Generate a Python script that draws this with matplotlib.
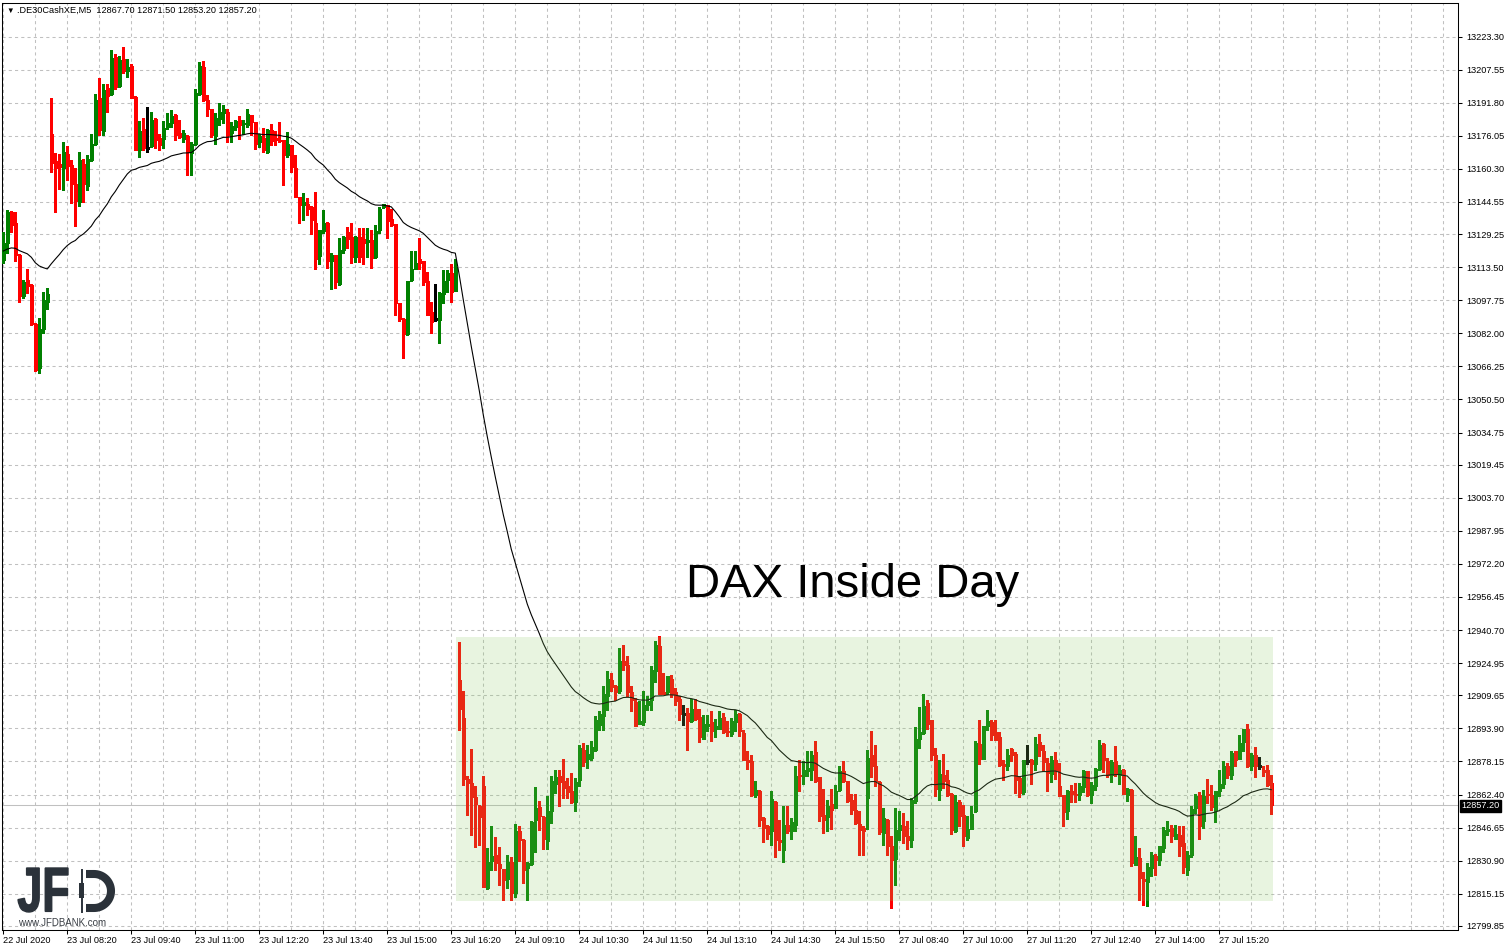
import numpy as np
import matplotlib
matplotlib.use('Agg')
import matplotlib.pyplot as plt
from matplotlib.patches import Rectangle, PathPatch
from matplotlib.lines import Line2D
from matplotlib.textpath import TextPath
from matplotlib.font_manager import FontProperties
from matplotlib.transforms import Affine2D

plt.rcParams['font.family'] = ['Liberation Sans', 'DejaVu Sans']

symbol = '.DE30CashXE,M5'
chart_title = 'DAX Inside Day'

# M5 candles, 23 Jul (left part) then 24 + 27 Jul
opens = [
    13116.8, 13124.8, 13139.6, 13134.3, 13119.2, 13099.7, 13107.3, 13104.9, 13086.4, 13065.3,
    13083.9, 13097.0, 13177.1, 13164.1, 13162.4, 13160.9, 13167.6, 13162.1, 13153.0, 13144.6,
    13162.5, 13152.2, 13164.4, 13172.0, 13194.1, 13178.4, 13198.8, 13196.1, 13213.6, 13199.8,
    13212.5, 13206.9, 13209.1, 13194.6, 13169.5, 13179.2, 13170.4, 13171.1, 13183.9, 13175.0,
    13174.3, 13180.0, 13182.2, 13185.8, 13177.4, 13174.7, 13175.8, 13167.9, 13172.0, 13195.8,
    13208.8, 13193.3, 13188.7, 13176.0, 13184.2, 13186.9, 13187.4, 13177.6, 13180.4, 13183.4,
    13181.5, 13181.0, 13185.8, 13182.6, 13173.1, 13175.2, 13168.3, 13178.6, 13175.0, 13174.2,
    13173.9, 13166.7, 13171.5, 13160.9, 13146.9, 13143.0, 13143.8, 13142.2, 13134.6, 13118.9,
    13130.6, 13134.6, 13116.3, 13119.2, 13105.7, 13121.6, 13130.0, 13127.9, 13118.4, 13127.9,
    13127.1, 13125.5, 13126.6, 13118.4, 13131.1, 13141.9, 13143.0, 13136.3, 13133.9, 13096.2,
    13089.0, 13081.6, 13107.3, 13112.8, 13117.6, 13116.3, 13106.8, 13092.2, 13088.6, 13088.3,
    13100.6, 13107.3, 13110.5, 13102.2,
    12917.1, 12898.8, 12870.0, 12868.1, 12861.4, 12857.1,
    12866.6, 12818.0, 12830.9, 12833.8, 12829.5, 12826.8, 12822.1, 12830.5, 12815.7, 12844.8,
    12840.9, 12827.3, 12829.5, 12850.5, 12856.6, 12851.6, 12840.1, 12854.7, 12867.6, 12871.1,
    12869.0, 12866.3, 12863.9, 12859.0, 12869.5, 12883.8, 12879.2, 12879.6, 12883.4, 12895.7,
    12899.6, 12909.1, 12917.1, 12913.9, 12911.5, 12926.1, 12924.2, 12911.4, 12906.3, 12896.1,
    12896.8, 12905.2, 12907.5, 12921.0, 12933.2, 12911.4, 12911.0, 12917.5, 12911.0, 12907.9,
    12900.9, 12901.2, 12897.3, 12903.1, 12899.3, 12889.0, 12895.2, 12897.1, 12893.6, 12893.6,
    12899.3, 12892.8, 12891.4, 12896.8, 12900.9, 12891.7, 12879.0, 12878.5, 12862.3, 12864.2,
    12851.2, 12847.3, 12844.9, 12858.9, 12840.9, 12836.2, 12848.1, 12845.2, 12847.8, 12871.9,
    12871.4, 12873.5, 12874.2, 12882.5, 12870.6, 12852.8, 12851.6, 12858.1, 12856.0, 12864.4,
    12873.7, 12868.7, 12860.0, 12854.9, 12848.6, 12846.7, 12860.8, 12881.2, 12875.8, 12868.2,
    12844.1, 12850.5, 12838.1, 12831.9, 12845.7, 12847.6, 12842.8, 12840.6, 12859.2, 12888.8,
    12891.7, 12906.0, 12897.7, 12881.4, 12864.7, 12871.9, 12869.5, 12862.8, 12844.9, 12858.7,
    12852.8, 12841.6, 12846.2, 12854.4, 12886.6, 12879.5, 12895.2, 12897.1, 12892.0, 12889.6,
    12877.1, 12875.8, 12884.2, 12881.9, 12870.3, 12863.5, 12878.2, 12879.0, 12877.1, 12887.3,
    12883.0, 12877.4, 12872.2, 12878.7, 12866.3, 12862.0, 12854.4, 12864.1, 12862.8, 12862.4,
    12866.0, 12873.5, 12862.4, 12866.3, 12874.5, 12886.6, 12878.5, 12871.6, 12878.5, 12871.9,
    12874.2, 12862.4, 12864.7, 12829.0, 12832.2, 12822.4, 12820.6, 12827.5, 12833.0, 12831.4,
    12837.0, 12845.2, 12846.5, 12841.4, 12843.3, 12839.4, 12826.3, 12833.8, 12856.0, 12862.4,
    12849.7, 12862.8, 12862.4, 12855.2, 12863.9, 12867.6, 12875.8, 12871.6, 12883.0, 12879.5,
    12887.3, 12893.6, 12876.1, 12881.0, 12875.8, 12874.2, 12874.0, 12867.7,
]
highs = [
    13130.3, 13140.9, 13140.2, 13139.8, 13119.6, 13107.3, 13112.4, 13105.5, 13086.9, 13089.1,
    13101.5, 13103.4, 13193.8, 13167.9, 13167.6, 13173.1, 13171.0, 13164.4, 13160.5, 13168.4,
    13165.2, 13166.8, 13177.1, 13195.8, 13203.6, 13200.9, 13200.9, 13217.1, 13215.2, 13213.9,
    13218.3, 13212.5, 13210.4, 13194.9, 13183.0, 13184.7, 13189.8, 13187.4, 13184.7, 13177.1,
    13183.0, 13186.9, 13188.5, 13186.3, 13183.4, 13179.0, 13176.6, 13173.1, 13198.5, 13211.2,
    13211.7, 13195.3, 13189.0, 13187.1, 13191.7, 13190.9, 13189.0, 13182.6, 13183.7, 13185.3,
    13183.4, 13189.0, 13186.0, 13182.8, 13177.1, 13179.9, 13179.2, 13181.8, 13178.3, 13182.6,
    13174.1, 13177.8, 13171.7, 13166.7, 13147.1, 13148.8, 13146.6, 13142.4, 13149.3, 13131.3,
    13140.6, 13134.8, 13120.0, 13119.4, 13127.6, 13128.1, 13132.7, 13134.7, 13128.1, 13132.2,
    13132.2, 13132.2, 13131.4, 13133.5, 13142.2, 13143.8, 13143.2, 13141.1, 13134.1, 13096.4,
    13089.2, 13107.0, 13121.1, 13121.1, 13127.4, 13116.5, 13111.2, 13097.0, 13105.4, 13101.5,
    13112.0, 13112.0, 13115.2, 13117.6,
    12934.8, 12911.8, 12871.1, 12884.2, 12866.6, 12857.3,
    12871.1, 12837.0, 12847.3, 12842.4, 12837.6, 12827.1, 12833.8, 12832.6, 12848.6, 12847.3,
    12841.1, 12830.3, 12849.7, 12866.2, 12859.5, 12852.0, 12861.6, 12871.1, 12874.3, 12874.3,
    12879.5, 12870.3, 12872.7, 12870.3, 12886.1, 12886.9, 12886.1, 12888.0, 12899.9, 12902.3,
    12914.2, 12921.3, 12920.2, 12914.7, 12932.1, 12933.7, 12928.5, 12914.2, 12908.3, 12906.8,
    12911.8, 12909.1, 12923.4, 12935.6, 12937.7, 12920.2, 12918.9, 12919.4, 12913.1, 12909.5,
    12905.2, 12903.6, 12907.9, 12907.9, 12903.1, 12900.4, 12900.4, 12902.0, 12898.4, 12902.3,
    12901.2, 12897.3, 12898.8, 12902.5, 12901.1, 12893.3, 12883.3, 12881.4, 12869.0, 12864.4,
    12851.6, 12848.1, 12864.2, 12859.1, 12850.5, 12857.1, 12857.1, 12851.3, 12875.8, 12879.0,
    12878.2, 12883.0, 12883.0, 12888.0, 12870.8, 12865.2, 12860.0, 12865.1, 12867.1, 12876.1,
    12878.5, 12868.9, 12862.8, 12862.8, 12854.7, 12847.3, 12883.8, 12892.5, 12886.1, 12868.7,
    12856.0, 12850.9, 12842.8, 12856.0, 12854.4, 12853.6, 12850.0, 12860.8, 12894.6, 12903.9,
    12910.2, 12907.5, 12897.9, 12884.6, 12879.0, 12881.9, 12874.2, 12863.1, 12862.4, 12859.7,
    12857.3, 12852.3, 12857.1, 12887.7, 12897.7, 12895.2, 12902.8, 12897.7, 12898.0, 12892.2,
    12879.0, 12884.2, 12884.4, 12882.7, 12871.1, 12879.0, 12886.1, 12879.2, 12889.6, 12891.4,
    12885.8, 12879.8, 12880.9, 12882.5, 12877.4, 12862.4, 12864.4, 12866.8, 12867.9, 12867.9,
    12874.0, 12873.7, 12868.2, 12875.0, 12888.5, 12886.8, 12879.8, 12879.0, 12885.7, 12876.6,
    12874.5, 12865.4, 12864.9, 12842.8, 12837.0, 12825.6, 12829.9, 12835.1, 12834.3, 12838.1,
    12846.9, 12850.0, 12847.8, 12848.1, 12847.3, 12847.3, 12835.4, 12857.1, 12862.7, 12863.5,
    12864.7, 12870.0, 12867.1, 12864.2, 12874.0, 12878.2, 12877.4, 12883.0, 12883.2, 12890.9,
    12893.8, 12896.0, 12882.2, 12885.0, 12880.3, 12876.1, 12876.6, 12871.5,
]
lows = [
    13115.3, 13120.0, 13130.3, 13116.5, 13097.0, 13098.6, 13101.0, 13085.8, 13064.0, 13063.3,
    13082.3, 13093.4, 13158.9, 13139.8, 13150.6, 13150.1, 13154.9, 13144.1, 13133.2, 13142.7,
    13144.6, 13150.1, 13164.0, 13171.6, 13176.3, 13176.3, 13187.4, 13195.6, 13198.5, 13199.3,
    13205.7, 13204.1, 13193.8, 13169.2, 13166.0, 13169.5, 13168.4, 13170.8, 13170.0, 13169.5,
    13170.0, 13179.5, 13180.0, 13174.2, 13175.0, 13173.1, 13157.3, 13157.3, 13171.5, 13195.3,
    13192.5, 13185.3, 13175.5, 13172.3, 13181.1, 13182.2, 13173.1, 13173.0, 13178.6, 13174.7,
    13177.1, 13180.2, 13176.3, 13169.9, 13170.7, 13168.3, 13167.9, 13171.5, 13171.5, 13173.1,
    13152.5, 13166.0, 13158.8, 13146.7, 13134.6, 13135.8, 13138.2, 13129.2, 13112.5, 13114.9,
    13129.8, 13113.3, 13103.3, 13103.8, 13104.9, 13120.0, 13122.7, 13115.7, 13115.9, 13115.9,
    13115.2, 13118.4, 13113.3, 13118.0, 13129.8, 13141.5, 13127.4, 13133.3, 13090.9, 13087.9,
    13070.3, 13081.4, 13107.0, 13112.5, 13112.4, 13104.9, 13090.6, 13082.2, 13087.9, 13077.6,
    13096.2, 13101.7, 13097.0, 13102.0,
    12893.3, 12866.8, 12852.8, 12843.3, 12837.4, 12838.6,
    12818.3, 12817.2, 12826.7, 12826.7, 12819.5, 12812.1, 12818.0, 12812.1, 12813.5, 12830.6,
    12820.3, 12812.1, 12828.9, 12834.9, 12845.4, 12836.7, 12836.7, 12848.9, 12863.2, 12857.1,
    12860.8, 12860.8, 12858.4, 12854.7, 12866.3, 12875.8, 12874.9, 12879.0, 12883.2, 12893.3,
    12893.3, 12902.8, 12911.5, 12907.6, 12910.7, 12921.5, 12909.1, 12902.0, 12895.0, 12896.0,
    12895.7, 12902.8, 12902.8, 12915.8, 12910.2, 12910.2, 12910.4, 12908.7, 12905.2, 12897.7,
    12895.7, 12883.5, 12897.1, 12898.0, 12887.3, 12888.8, 12892.8, 12887.7, 12889.6, 12893.4,
    12891.8, 12890.4, 12890.1, 12892.5, 12890.4, 12878.7, 12874.6, 12861.6, 12861.2, 12847.3,
    12839.7, 12841.0, 12838.6, 12832.5, 12835.9, 12830.2, 12844.1, 12841.3, 12845.2, 12863.9,
    12867.6, 12871.1, 12869.5, 12868.2, 12849.7, 12844.1, 12845.2, 12846.2, 12855.8, 12864.2,
    12868.2, 12859.0, 12853.3, 12848.6, 12833.7, 12833.7, 12846.2, 12870.6, 12866.3, 12843.6,
    12838.2, 12833.5, 12808.4, 12819.5, 12840.6, 12839.4, 12836.7, 12837.4, 12858.4, 12884.6,
    12891.4, 12893.6, 12878.7, 12861.6, 12860.0, 12865.5, 12861.6, 12843.8, 12844.7, 12847.3,
    12837.8, 12840.6, 12846.0, 12853.9, 12877.1, 12879.3, 12893.0, 12888.2, 12888.2, 12876.1,
    12869.5, 12874.0, 12878.2, 12863.1, 12861.2, 12862.8, 12877.1, 12867.6, 12874.0, 12880.9,
    12873.5, 12864.2, 12868.2, 12869.8, 12861.7, 12847.3, 12850.9, 12858.7, 12858.7, 12860.0,
    12863.5, 12861.6, 12858.4, 12864.4, 12874.2, 12873.0, 12870.8, 12868.2, 12871.4, 12867.6,
    12862.6, 12859.2, 12828.6, 12828.8, 12812.1, 12810.0, 12809.2, 12823.5, 12824.3, 12829.0,
    12834.9, 12843.3, 12839.7, 12841.3, 12833.0, 12825.1, 12824.3, 12832.5, 12853.6, 12841.4,
    12846.5, 12858.4, 12855.2, 12849.2, 12861.6, 12865.5, 12870.3, 12869.8, 12876.1, 12879.3,
    12883.0, 12875.6, 12874.0, 12870.6, 12874.5, 12871.1, 12866.6, 12853.2,
]
closes = [
    13124.8, 13139.8, 13133.5, 13119.2, 13099.7, 13106.2, 13104.6, 13086.4, 13064.5, 13083.9,
    13097.8, 13100.5, 13163.2, 13160.8, 13161.2, 13168.4, 13161.7, 13153.0, 13144.9, 13164.4,
    13153.0, 13165.2, 13172.0, 13193.3, 13178.7, 13198.0, 13194.9, 13213.1, 13199.3, 13212.3,
    13206.9, 13208.8, 13194.2, 13169.5, 13178.2, 13170.3, 13170.4, 13183.4, 13173.9, 13171.6,
    13179.8, 13181.9, 13185.5, 13176.3, 13175.5, 13177.4, 13168.4, 13172.0, 13196.5, 13209.1,
    13193.0, 13188.7, 13176.3, 13184.7, 13187.4, 13188.7, 13176.3, 13180.5, 13182.9, 13181.3,
    13182.1, 13186.3, 13182.6, 13172.3, 13175.8, 13169.1, 13179.0, 13173.6, 13174.2, 13173.4,
    13166.7, 13172.0, 13161.2, 13146.9, 13143.0, 13144.5, 13141.1, 13135.8, 13117.3, 13131.1,
    13134.7, 13116.3, 13119.2, 13106.2, 13121.6, 13127.9, 13126.8, 13118.4, 13127.9, 13118.4,
    13125.0, 13126.3, 13117.9, 13130.6, 13141.4, 13143.4, 13135.4, 13133.5, 13096.2, 13089.0,
    13081.6, 13106.8, 13112.8, 13115.7, 13115.7, 13106.2, 13090.9, 13087.5, 13088.6, 13101.3,
    13106.8, 13110.5, 13101.7, 13113.6,
    12903.3, 12870.0, 12868.1, 12861.1, 12857.8, 12851.6,
    12818.5, 12830.5, 12833.2, 12829.9, 12827.3, 12821.6, 12830.5, 12815.6, 12844.8, 12840.6,
    12826.7, 12829.9, 12849.5, 12856.2, 12852.0, 12841.3, 12854.7, 12868.7, 12870.6, 12868.2,
    12865.4, 12863.5, 12859.0, 12868.5, 12884.6, 12878.1, 12881.9, 12884.9, 12897.7, 12900.9,
    12910.4, 12917.4, 12913.6, 12911.0, 12925.8, 12923.9, 12911.0, 12907.2, 12895.2, 12897.6,
    12905.2, 12907.1, 12921.8, 12933.7, 12910.4, 12910.4, 12918.7, 12910.2, 12906.8, 12900.9,
    12900.9, 12897.3, 12903.1, 12898.4, 12889.6, 12896.1, 12896.1, 12892.5, 12895.2, 12899.0,
    12892.0, 12892.0, 12897.6, 12900.9, 12892.5, 12879.0, 12877.7, 12862.0, 12864.7, 12850.5,
    12846.3, 12843.8, 12860.4, 12840.9, 12839.7, 12848.1, 12845.2, 12849.4, 12871.1, 12871.4,
    12874.2, 12875.0, 12881.4, 12869.0, 12852.0, 12850.5, 12857.1, 12855.2, 12864.1, 12873.7,
    12869.0, 12859.2, 12854.9, 12848.9, 12845.7, 12845.1, 12879.8, 12875.8, 12868.7, 12844.4,
    12851.3, 12837.8, 12831.1, 12845.7, 12848.1, 12842.6, 12840.6, 12860.0, 12889.0, 12892.2,
    12904.7, 12896.1, 12881.4, 12865.0, 12872.3, 12868.7, 12862.0, 12845.7, 12858.7, 12852.0,
    12842.6, 12846.2, 12853.3, 12886.9, 12879.5, 12895.0, 12897.3, 12890.9, 12888.5, 12876.6,
    12876.1, 12881.4, 12881.4, 12869.2, 12863.1, 12878.8, 12878.2, 12877.1, 12886.6, 12883.5,
    12877.7, 12872.7, 12878.7, 12874.2, 12861.9, 12854.0, 12864.2, 12862.8, 12862.0, 12866.3,
    12873.5, 12862.4, 12867.1, 12874.5, 12886.1, 12878.7, 12871.6, 12877.7, 12872.3, 12874.2,
    12862.8, 12865.2, 12829.9, 12832.7, 12822.7, 12821.1, 12827.8, 12833.5, 12831.1, 12838.0,
    12845.4, 12846.2, 12842.6, 12843.8, 12837.8, 12827.8, 12833.8, 12855.7, 12861.6, 12847.6,
    12861.9, 12862.0, 12856.5, 12863.9, 12867.6, 12876.1, 12871.9, 12882.2, 12879.0, 12886.9,
    12893.6, 12875.8, 12881.4, 12875.8, 12875.8, 12872.9, 12866.8, 12857.2,
]

ma_period = 40        # exponential MA on close
ma_start = 13121.0    # MA value just before the first bar

price_ticks = [13223.30, 13207.55, 13191.80, 13176.05, 13160.30, 13144.55, 13129.25,
               13113.50, 13097.75, 13082.00, 13066.25, 13050.50, 13034.75, 13019.45,
               13003.70, 12987.95, 12972.20, 12956.45, 12940.70, 12924.95, 12909.65,
               12893.90, 12878.15, 12862.40, 12846.65, 12830.90, 12815.15, 12799.85]
time_labels = ['22 Jul 2020', '23 Jul 08:20', '23 Jul 09:40', '23 Jul 11:00', '23 Jul 12:20',
               '23 Jul 13:40', '23 Jul 15:00', '23 Jul 16:20', '24 Jul 09:10', '24 Jul 10:30',
               '24 Jul 11:50', '24 Jul 13:10', '24 Jul 14:30', '24 Jul 15:50', '27 Jul 08:40',
               '27 Jul 10:00', '27 Jul 11:20', '27 Jul 12:40', '27 Jul 14:00', '27 Jul 15:20']
label_step = 16

# 24 Jul range (inside day box)
box_low, box_high = 12811.7, 12937.6

o = np.array(opens); h = np.array(highs); l = np.array(lows); c = np.array(closes)
n = len(c)
x = np.arange(n)

a = 2.0 / (ma_period + 1)
ma = np.empty(n)
m = ma_start
for i in range(n):
    m += a * (c[i] - m)
    ma[i] = m

W, H = 1509, 951
fig = plt.figure(figsize=(W / 100, H / 100), dpi=100)
ax = fig.add_axes([2.3 / W, (H - 930) / H, 1456 / W, 927.5 / H])
ax.set_xlim(-0.25, 363.75)
ax.set_ylim(12797.9, 13239.5)

flat = c == o
colors = np.where(c > o, '#008000', np.where(c < o, '#ff0000', '#000000'))

ax.axhline(c[-1], color='#c0c0c0', lw=0.75, zorder=1.5)
ax.vlines(x, l, h, colors=colors, lw=0.75, zorder=3, antialiased=False)
nf = ~flat
ax.bar(x[nf], np.abs(c - o)[nf], bottom=np.minimum(o, c)[nf], width=0.7,
       color=colors[nf], edgecolor=colors[nf], linewidth=0.4, zorder=3, antialiased=False)
ax.hlines(c[flat], x[flat] - 0.4, x[flat] + 0.4, colors='black', lw=0.75, zorder=3,
          antialiased=False)
ax.plot(x, ma, color='black', lw=0.8, zorder=4)

ax.add_patch(Rectangle((113.1, box_low), 317.35 - 113.1, box_high - box_low,
                       facecolor=(0.55, 0.80, 0.40), alpha=0.2, edgecolor='none', zorder=5))

ax.yaxis.tick_right()
ax.set_yticks(price_ticks)
ax.set_yticklabels([f'{p:.2f}' for p in price_ticks])
ax.set_xticks(np.arange(len(time_labels)) * label_step)
ax.set_xticklabels(time_labels, ha='left')
ax.set_xticks(np.arange(0, 364, 8), minor=True)
ax.tick_params(axis='y', direction='out', length=3, width=0.75, pad=2.5, labelsize=6.6)
ax.tick_params(axis='x', which='major', direction='out', length=3, width=0.75, pad=1.5,
               labelsize=6.6)
ax.tick_params(axis='x', which='minor', length=0)
ax.grid(True, axis='y', which='major', ls=(0, (3, 3)), color='#c0c0c0', lw=0.75)
ax.grid(True, axis='x', which='both', ls=(0, (3, 3)), color='#c0c0c0', lw=0.75)
ax.set_axisbelow(True)
for s in ax.spines.values():
    s.set_linewidth(0.75)

# header + labels (pixel positions, top-left origin)
fig.text(6 / W, 1 - 12.5 / H, '\u25bc', fontsize=5.5, va='baseline')
fig.text(17 / W, 1 - 12.5 / H,
         f'{symbol}  {o[-1]:.2f} {h[-1]:.2f} {l[-1]:.2f} {c[-1]:.2f}',
         fontsize=6.6, va='baseline')
fig.text(853 / W, 1 - 597 / H, chart_title, fontsize=34, ha='center', va='baseline')
fig.text(1461.5 / W, 1 - 806 / H, f'{c[-1]:.2f}', fontsize=6.6, color='white', va='center',
         bbox=dict(boxstyle='square,pad=0.15', fc='black', ec='black'))

# JFD logo
px = Affine2D().scale(1 / W, -1 / H).translate(0, 1) + fig.transFigure
logo_col = '#2b323a'
tp = TextPath((0, 0), 'JF', size=100, prop=FontProperties(family='Liberation Sans', weight='bold'))
e = tp.get_extents()
tr = Affine2D().translate(-e.x0, -e.y0).scale(50 / e.width, -44 / e.height).translate(18, 912)
fig.add_artist(PathPatch(tp, transform=tr + px, facecolor=logo_col, edgecolor=logo_col, lw=1.0))
fig.add_artist(Line2D([81.5, 81.5], [870, 912], transform=px, color=logo_col, lw=1.4))
fig.add_artist(Rectangle((79.2, 883), 4.6, 15, transform=px, color=logo_col, lw=0))
t = np.linspace(-np.pi / 2, np.pi / 2, 40)
dx = np.concatenate([[86], 94 + 17 * np.cos(t), [86]])
dy = np.concatenate([[874], 891 + 17 * np.sin(t), [908]])
fig.add_artist(Line2D(dx, dy, transform=px, color=logo_col, lw=5.8, solid_capstyle='butt',
                      solid_joinstyle='miter'))
fig.text(18 / W, 1 - 926 / H, 'www.JFDBANK.com', fontsize=7, color='#3a3f45', va='baseline')

fig.savefig('out.png', dpi=100)
